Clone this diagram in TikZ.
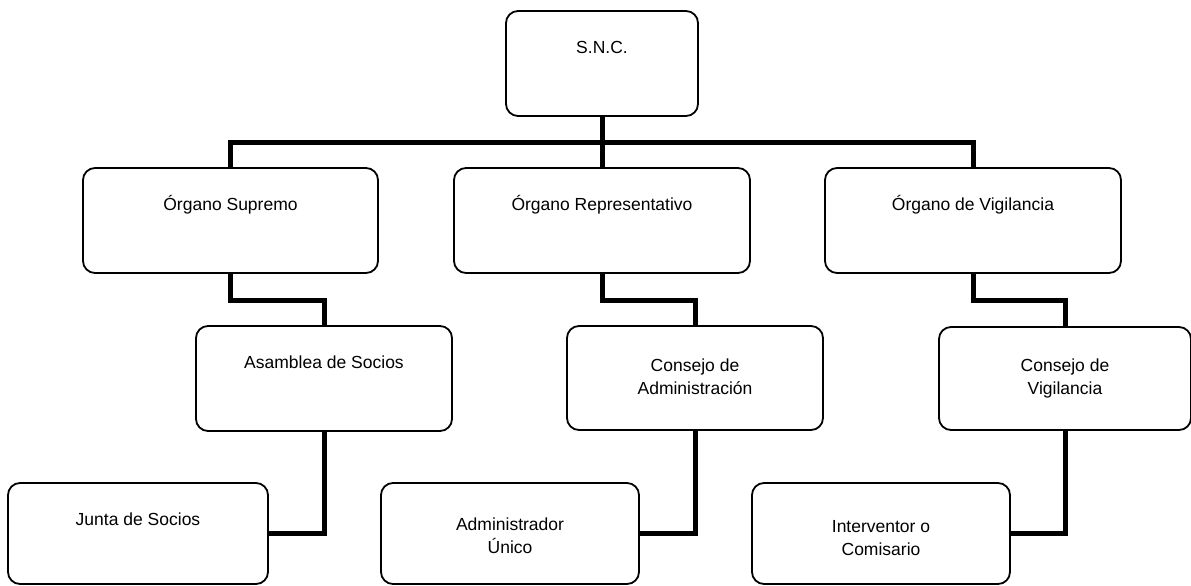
\documentclass[tikz,border=0pt]{standalone}
\usepackage{fontspec}
\setmainfont{Liberation Sans}
\begin{document}
\begin{tikzpicture}[x=1pt,y=-1pt,
  box/.style={draw, line width=1.8pt, rounded corners=12pt, inner sep=0pt, fill=white},
  lbl/.style={inner sep=0pt, align=center, font=\fontsize{17.5}{23}\selectfont},
  conn/.style={draw, line width=5pt, line join=miter, line cap=butt}]
\useasboundingbox (0,0) rectangle (1191,586);
% boxes
\node[box, minimum width=192pt, minimum height=105pt] (snc) at (602,63.5) {};
\node[box, minimum width=295pt, minimum height=105pt] (os) at (230.5,220.5) {};
\node[box, minimum width=296pt, minimum height=105pt] (or) at (602,220.5) {};
\node[box, minimum width=296pt, minimum height=105pt] (ov) at (973,220.5) {};
\node[box, minimum width=256pt, minimum height=105pt] (as) at (324,378.5) {};
\node[box, minimum width=256pt, minimum height=104pt] (ca) at (695,378) {};
\node[box, minimum width=252pt, minimum height=103pt] (cv) at (1065,378.5) {};
\node[box, minimum width=260pt, minimum height=101pt] (js) at (138,533.5) {};
\node[box, minimum width=258pt, minimum height=101pt] (au) at (510,533.5) {};
\node[box, minimum width=258pt, minimum height=101pt] (ic) at (881,533.5) {};
% texts
\node[lbl, yshift=-37pt] at (snc.north) {S.N.C.};
\node[lbl, yshift=-37.5pt] at (os.north) {Órgano Supremo};
\node[lbl, yshift=-37.5pt] at (or.north) {Órgano Representativo};
\node[lbl, yshift=-37.5pt] at (ov.north) {Órgano de Vigilancia};
\node[lbl, yshift=-37pt] at (as.north) {Asamblea de Socios};
\node[lbl, yshift=-52pt] at (ca.north) {Consejo de\\Administración};
\node[lbl, yshift=-52pt] at (cv.north) {Consejo de\\Vigilancia};
\node[lbl, yshift=-37pt] at (js.north) {Junta de Socios};
\node[lbl, yshift=-54pt] at (au.north) {Administrador\\Único};
\node[lbl, yshift=-55.5pt] at (ic.north) {Interventor o\\Comisario};
% connectors
\coordinate (bar) at (602,142);
\draw[conn] (snc.south) -- (or.north);
\draw[conn] (os.north) -- (os.north |- bar) -| (ov.north);
\draw[conn] (os.south) -- ++(0,27) -| (as.north);
\draw[conn] (or.south) -- ++(0,27) -| (ca.north);
\draw[conn] (ov.south) -- ++(0,27) -| (cv.north);
\draw[conn] (as.south) |- (js.east);
\draw[conn] (ca.south) |- (au.east);
\draw[conn] (cv.south) |- (ic.east);
\end{tikzpicture}
\end{document}
